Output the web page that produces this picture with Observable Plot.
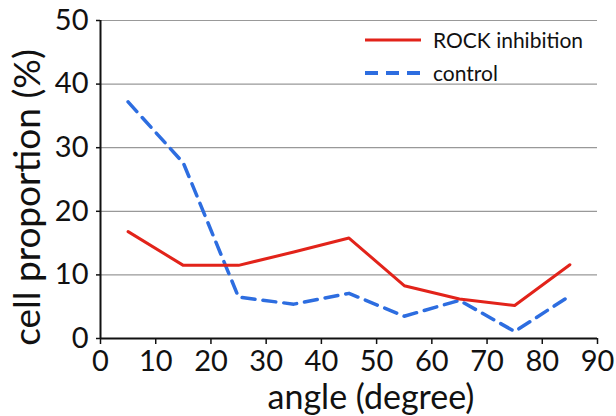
<!DOCTYPE html>
<html><head><meta charset="utf-8">
<script src="https://cdn.jsdelivr.net/npm/d3@7"></script>
<script src="https://cdn.jsdelivr.net/npm/@observablehq/plot@0.6"></script>
<style>
body{margin:0;background:#fff;}
#wrap{position:relative;width:616px;height:416px;font-family:Lato,"Open Sans",sans-serif;}
#legend{position:absolute;left:365px;top:23px;font-size:21px;color:#111;line-height:33px;}
#legend div{display:flex;align-items:center;}
#legend svg{margin-right:12px;}
</style>
</head><body>
<div id="wrap"><div id="legend"></div></div>
<script>
const angles = [5, 15, 25, 35, 45, 55, 65, 75, 85];
const rock = [16.8, 11.5, 11.5, 13.6, 15.8, 8.3, 6.2, 5.2, 11.6];
const control = [37.2, 27.6, 6.5, 5.4, 7.1, 3.5, 6.0, 1.1, 6.7];
const xTicks = [0, 10, 20, 30, 40, 50, 60, 70, 80, 90];
const yTicks = [0, 10, 20, 30, 40, 50];
const seriesNames = ["ROCK inhibition", "control"];
const red = "#e2231a", blue = "#2d6de0";

const rockData = angles.map((a, i) => ({angle: a, value: rock[i]}));
const ctrlData = angles.map((a, i) => ({angle: a, value: control[i]}));

const chart = Plot.plot({
  width: 616, height: 416,
  marginLeft: 100, marginRight: 19, marginTop: 20, marginBottom: 78,
  style: {fontFamily: "Lato, 'Open Sans', sans-serif", color: "#111", background: "white"},
  x: {domain: [0, 90]},
  y: {domain: [0, 50]},
  marks: [
    Plot.gridY(yTicks, {stroke: "#999", strokeOpacity: 1, strokeWidth: 1.2}),
    Plot.axisY(yTicks, {tickSize: 4, tickPadding: 8, fontSize: 29, label: null, stroke: "#111", strokeWidth: 1.5}),
    Plot.axisX(xTicks, {tickSize: 6, tickPadding: 6, fontSize: 29, label: null, stroke: "#111", strokeWidth: 1.5}),
    Plot.ruleX([0], {stroke: "#111", strokeWidth: 2}),
    Plot.ruleY([0], {stroke: "#111", strokeWidth: 2}),
    Plot.line(ctrlData, {x: "angle", y: "value", stroke: blue, strokeWidth: 3.5, strokeDasharray: "13,8"}),
    Plot.line(rockData, {x: "angle", y: "value", stroke: red, strokeWidth: 3}),
    Plot.text(["angle (degree)"], {frameAnchor: "bottom", lineAnchor: "middle", textAnchor: "middle", dx: 22, dy: 60, fontSize: 34, fill: "#111"}),
    Plot.text(["cell proportion (%)"], {frameAnchor: "left", lineAnchor: "middle", textAnchor: "middle", dx: -72, dy: 18, rotate: -90, fontSize: 37, fill: "#111"})
  ]
});
document.getElementById("wrap").prepend(chart);
chart.style.position = "absolute"; chart.style.left = "0"; chart.style.top = "0";

const legend = document.getElementById("legend");
const styles = [{c: red, dash: null, w: 3}, {c: blue, dash: "13,8", w: 4}];
seriesNames.forEach((n, i) => {
  const d = document.createElement("div");
  const s = styles[i];
  d.innerHTML = `<svg width="56" height="10"><line x1="0" x2="56" y1="5" y2="5" stroke="${s.c}" stroke-width="${s.w}" ${s.dash ? `stroke-dasharray="${s.dash}"` : ""}/></svg><span>${n}</span>`;
  legend.appendChild(d);
});
</script>
</body></html>
